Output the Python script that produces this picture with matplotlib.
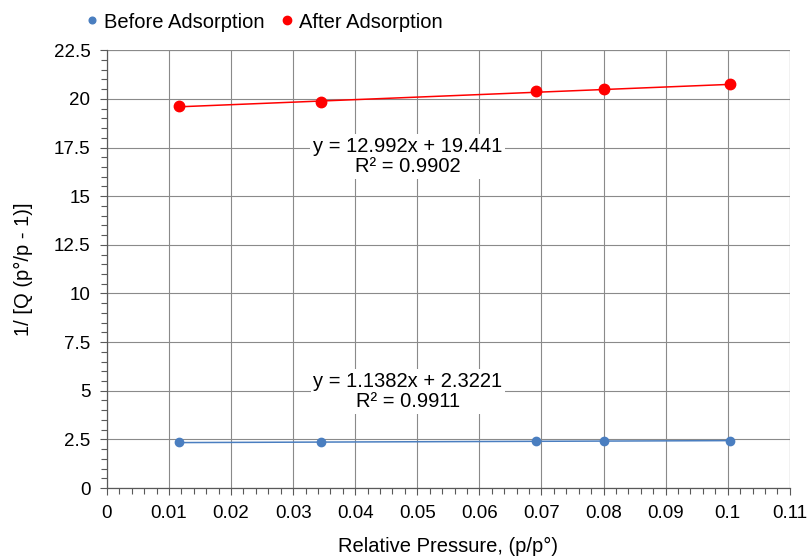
import numpy as np
import matplotlib
matplotlib.use('Agg')
import matplotlib.pyplot as plt
from matplotlib.ticker import MultipleLocator

plt.rcParams['font.family'] = ['Liberation Sans', 'DejaVu Sans']

# data
x_before = [0.0116, 0.0345, 0.0691, 0.0800, 0.1003]
y_before = [2.34, 2.36, 2.40, 2.41, 2.44]
x_after = [0.0116, 0.0345, 0.0691, 0.0800, 0.1003]
y_after = [19.62, 19.83, 20.39, 20.49, 20.75]

# trendline coefficients (slope, intercept, r2)
fit_before = (1.1382, 2.3221, 0.9911)
fit_after = (12.992, 19.441, 0.9902)

xticks = [0, 0.01, 0.02, 0.03, 0.04, 0.05, 0.06, 0.07, 0.08, 0.09, 0.1, 0.11]
xticklabels = ['0', '0.01', '0.02', '0.03', '0.04', '0.05', '0.06', '0.07', '0.08', '0.09', '0.1', '0.11']
yticks = [0, 2.5, 5, 7.5, 10, 12.5, 15, 17.5, 20, 22.5]
yticklabels = ['0', '2.5', '5', '7.5', '10', '12.5', '15', '17.5', '20', '22.5']

blue = '#4a7ec0'
red = '#ff0000'

fig = plt.figure(figsize=(8.1, 5.58), dpi=100)
ax = fig.add_axes([0.132, 0.1254, 0.843, 0.7846])

ax.plot(x_before, y_before, 'o', color=blue, ms=6, label='Before Adsorption', zorder=4)
ax.plot(x_after, y_after, 'o', color=red, ms=7.5, label='After Adsorption', zorder=4)

# trendlines
for xs, fit, c in [(x_before, fit_before, blue), (x_after, fit_after, red)]:
    xx = np.array([min(xs), max(xs)])
    ax.plot(xx, fit[0] * xx + fit[1], '-', color=c, lw=1.1, zorder=3)

bb = dict(facecolor='white', edgecolor='none', pad=2)
ax.text(0.0485, 17.05, 'y = %.3fx + %.3f\nR² = %.4f' % fit_after, ha='center', va='center',
        fontsize=14.5, linespacing=1.08, bbox=bb, zorder=5)
ax.text(0.0485, 4.98, 'y = %.4fx + %.4f\nR² = %.4f' % fit_before, ha='center', va='center',
        fontsize=14.5, linespacing=1.08, bbox=bb, zorder=5)

ax.set_xlim(0, 0.11)
ax.set_ylim(0, 22.5)
ax.set_xticks(xticks)
ax.set_xticklabels(xticklabels)
ax.set_yticks(yticks)
ax.set_yticklabels(yticklabels)
ax.xaxis.set_minor_locator(MultipleLocator(0.002))
ax.yaxis.set_minor_locator(MultipleLocator(0.5))
ax.tick_params(which='major', direction='out', length=5, width=0.8, color='#595959',
               labelsize=13.5, pad=7)
ax.tick_params(which='minor', direction='out', length=4, width=0.8, color='#595959')

ax.grid(True, which='major', color='#8a8a8a', lw=0.8)
ax.set_axisbelow(True)
for s in ['top', 'right']:
    ax.spines[s].set_visible(False)
for s in ['left', 'bottom']:
    ax.spines[s].set_color('#595959')
    ax.spines[s].set_linewidth(0.9)
ax.axvline(0.11, color='#8a8a8a', lw=0.8, zorder=1)
ax.axhline(22.5, color='#8a8a8a', lw=0.8, zorder=1)

ax.set_xlabel('Relative Pressure, (p/p°)', fontsize=14.5, labelpad=11)
ax.set_ylabel('1/ [Q (p°/p - 1)]', fontsize=14.5, labelpad=15)

ax.legend(loc='center left', bbox_to_anchor=(86 / 810, 1 - 22 / 558),
          bbox_transform=fig.transFigure, ncol=2, frameon=False,
          fontsize=14.5, handlelength=0.6, handletextpad=0.3, columnspacing=0.8,
          markerscale=0.8, borderpad=0, borderaxespad=0)

fig.savefig('out.png', dpi=100)
